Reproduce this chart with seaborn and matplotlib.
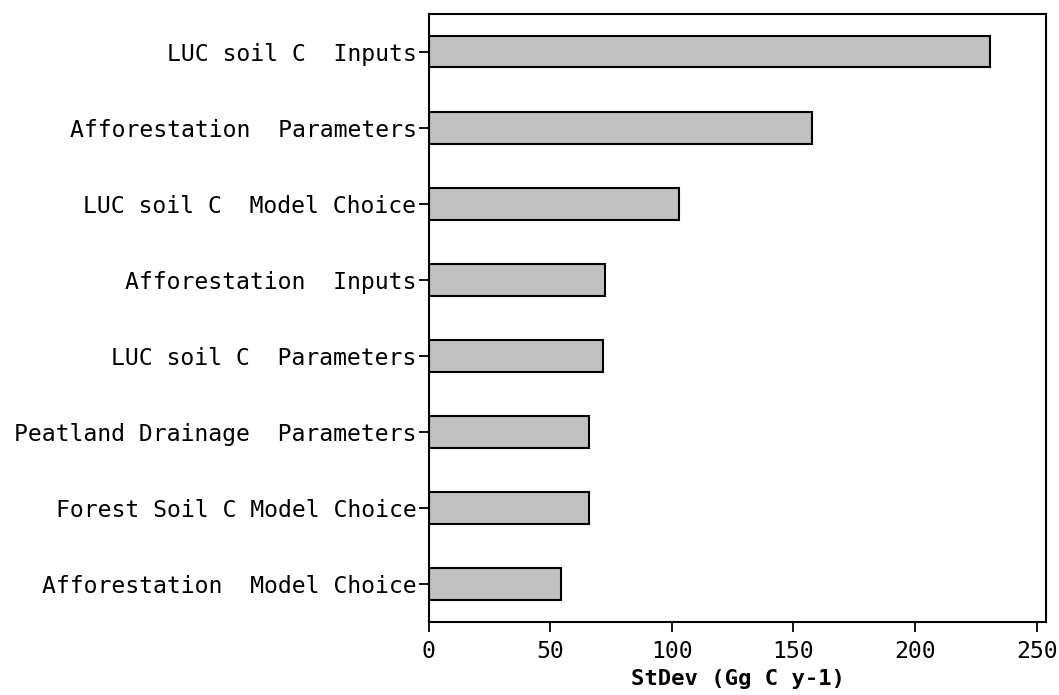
import matplotlib
matplotlib.use("Agg")
import matplotlib.pyplot as plt
import seaborn as sns
import pandas as pd

sources = [
    "LUC soil C  Inputs",
    "Afforestation  Parameters",
    "LUC soil C  Model Choice",
    "Afforestation  Inputs",
    "LUC soil C  Parameters",
    "Peatland Drainage  Parameters",
    "Forest Soil C Model Choice",
    "Afforestation  Model Choice",
]
stdev = [231, 157.5, 103, 72.5, 71.5, 66, 66, 54.5]

df = pd.DataFrame({"source": sources, "stdev": stdev})

sns.set_style("ticks")
plt.rcParams["font.family"] = ["DejaVu Sans Mono"]
plt.rcParams["text.color"] = "black"
plt.rcParams["xtick.color"] = "black"
plt.rcParams["ytick.color"] = "black"
plt.rcParams["axes.labelcolor"] = "black"

fig = plt.figure(figsize=(10.59, 6.95), dpi=100)
ax = fig.add_axes([0.405, 0.105, 0.583, 0.875])

sns.barplot(
    data=df, x="stdev", y="source", orient="h",
    color="#c0c0c0", edgecolor="black", linewidth=1.5,
    width=0.41, saturation=1, ax=ax,
)

ax.set_xlim(0, 254)
ax.set_xticks([0, 50, 100, 150, 200, 250])
ax.set_xlabel("StDev (Gg C y-1)", fontsize=16, fontweight="bold", labelpad=4)
ax.set_ylabel("")
ax.tick_params(axis="both", labelsize=16.7, length=7, width=1.3, color="black")
ax.tick_params(axis="x", pad=6)
ax.tick_params(axis="y", pad=2)
for s in ax.spines.values():
    s.set_visible(True)
    s.set_linewidth(1.5)
    s.set_color("black")

fig.savefig("out.png", dpi=100)
